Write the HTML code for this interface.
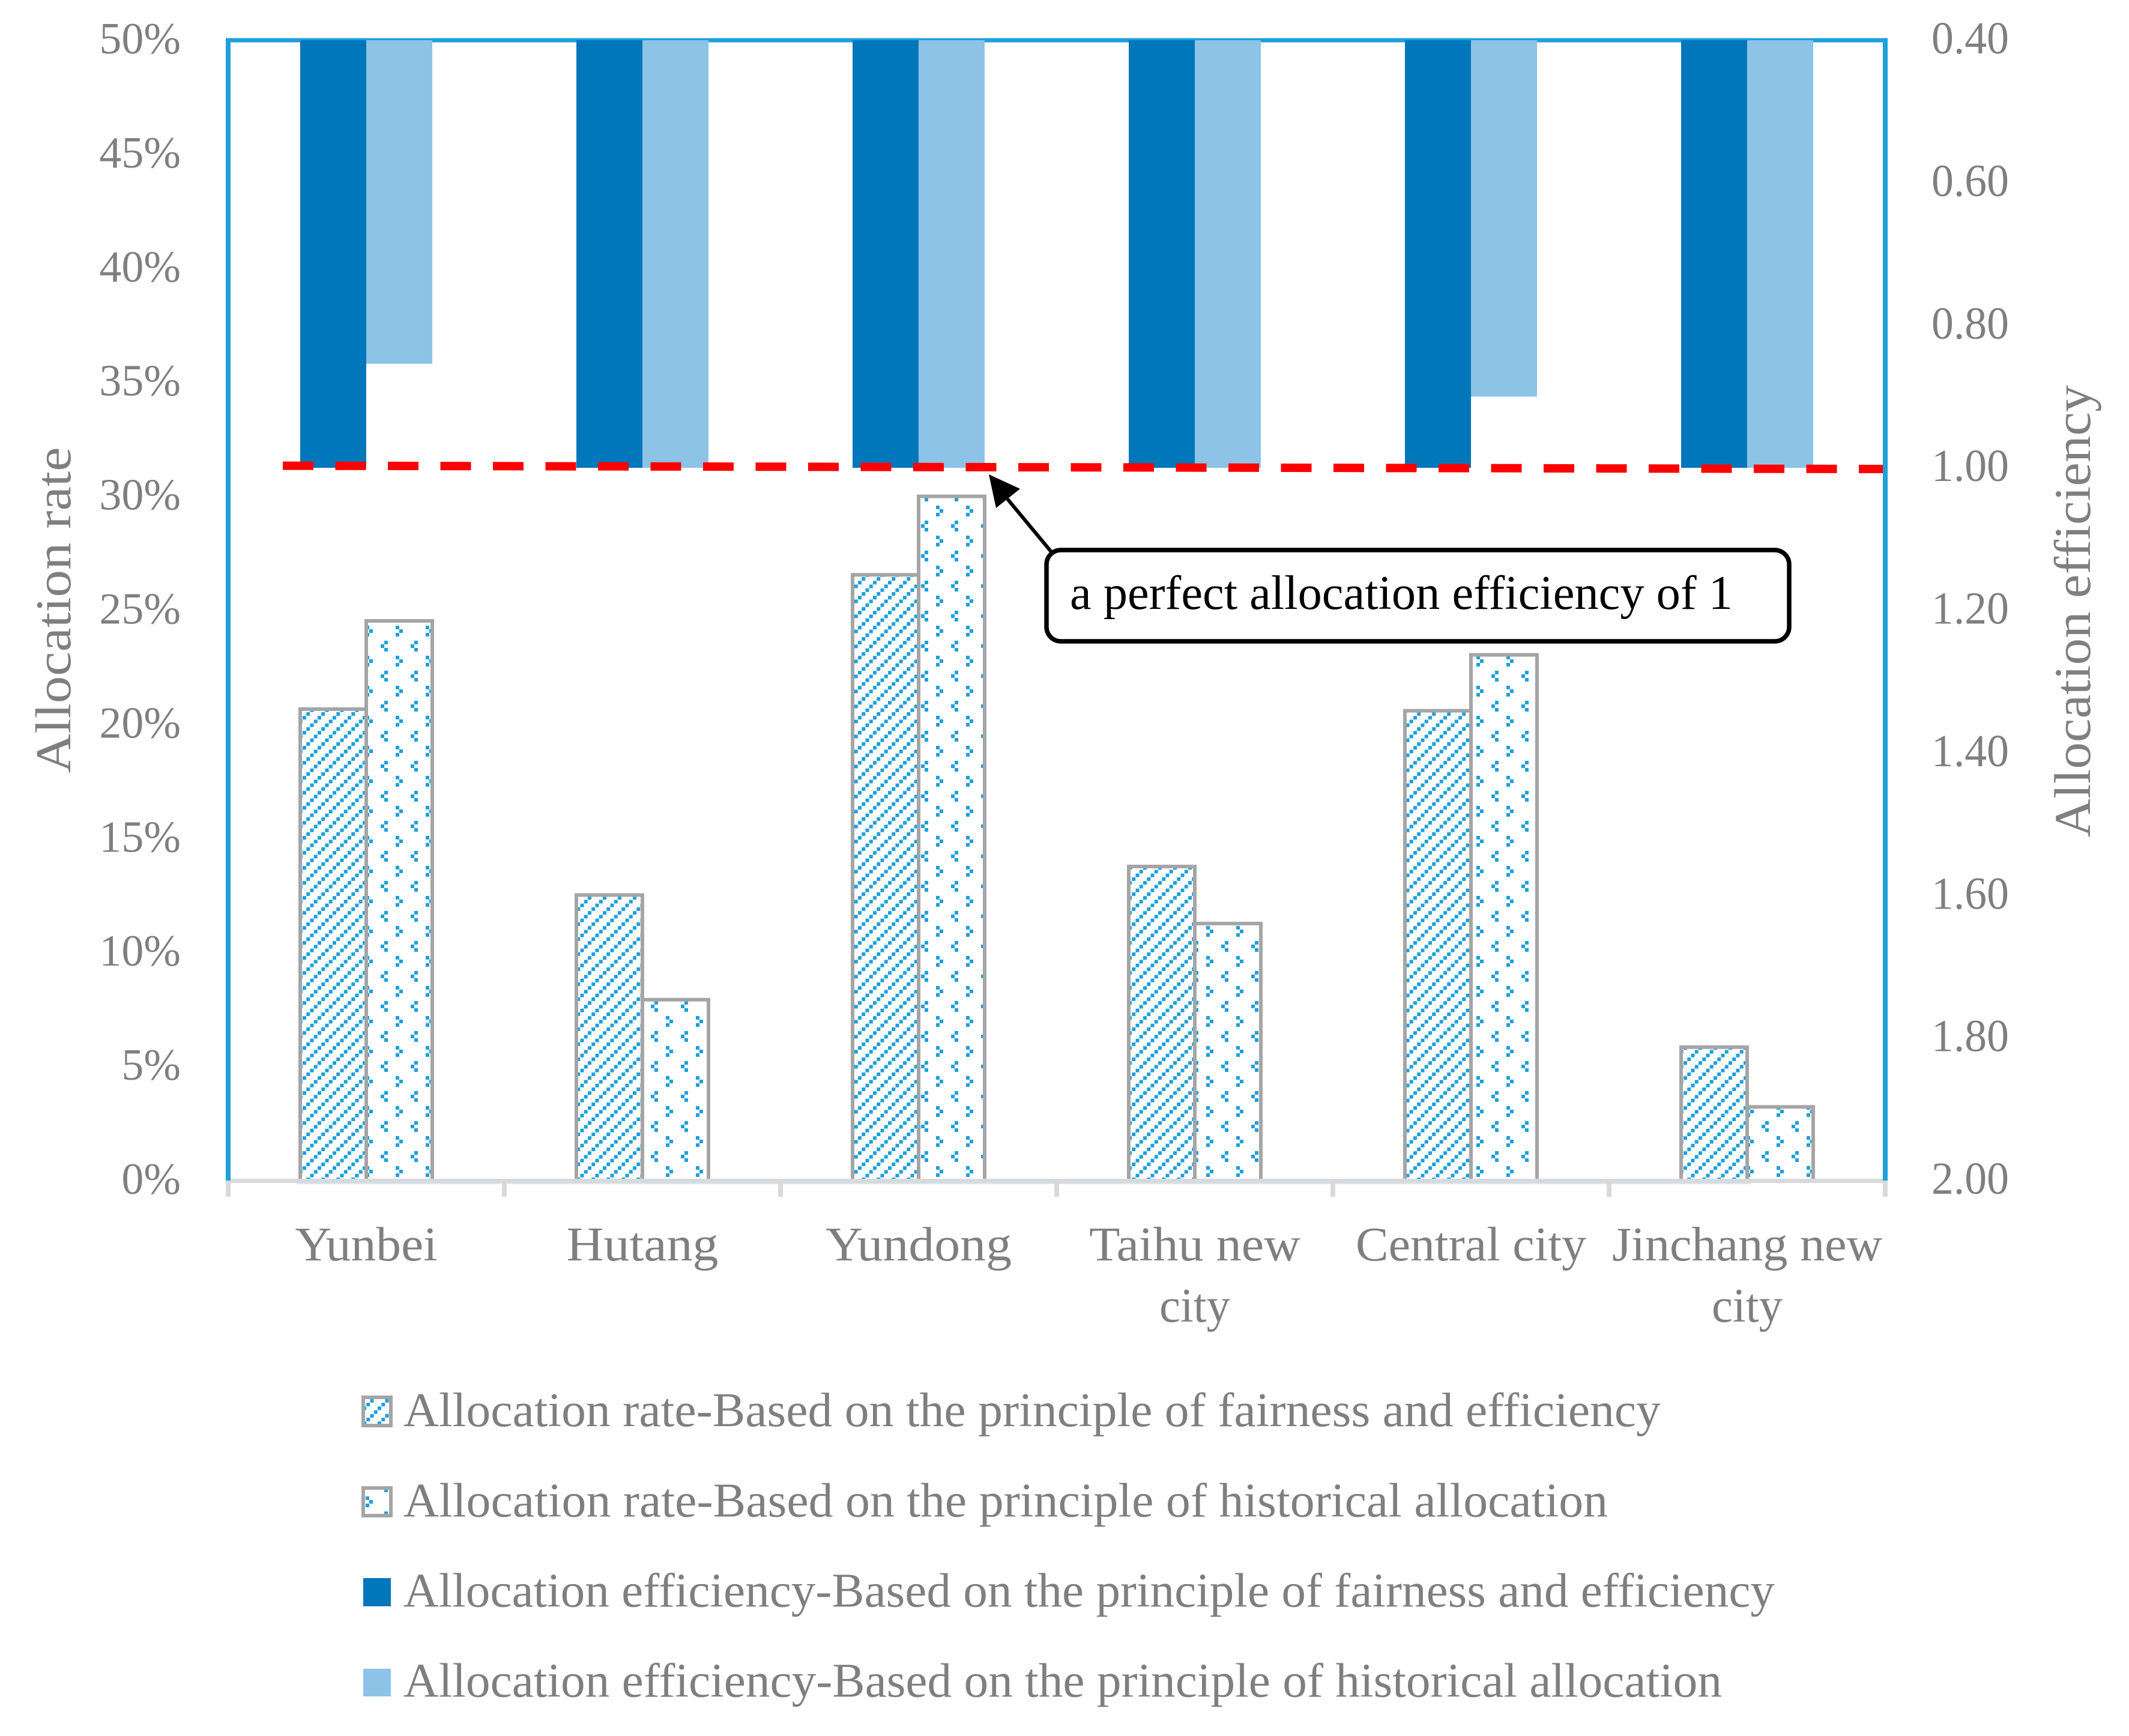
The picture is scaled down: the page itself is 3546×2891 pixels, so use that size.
<!DOCTYPE html>
<html lang="en">
<head>
<meta charset="utf-8">
<title>Allocation rate and allocation efficiency</title>
<style>
html,body{margin:0;padding:0;background:#fff;}
svg{display:block;}
text{font-family:"Liberation Serif",serif;fill:#7f7f7f;}
</style>
</head>
<body>
<svg id="chart" xmlns="http://www.w3.org/2000/svg" width="3546" height="2891" viewBox="0 0 3546 2891">
  <defs>
    <pattern id="hatch" patternUnits="userSpaceOnUse" width="25" height="25" patternTransform="translate(4,-1.5)">
      <rect x="0" y="18.75" width="6" height="6" fill="#1f9fdc"/>
      <rect x="6.25" y="12.5" width="6" height="6" fill="#1f9fdc"/>
      <rect x="12.5" y="6.25" width="6" height="6" fill="#1f9fdc"/>
      <rect x="18.75" y="0" width="6" height="6" fill="#1f9fdc"/>
    </pattern>
    <pattern id="dots" patternUnits="userSpaceOnUse" width="50" height="50" patternTransform="translate(0,10)">
      <rect x="40" y="7" width="6" height="6" fill="#1f9fdc"/>
      <rect x="34" y="13" width="6" height="6" fill="#1f9fdc"/>
      <rect x="40" y="19" width="6" height="6" fill="#1f9fdc"/>
      <rect x="9" y="32" width="6" height="6" fill="#1f9fdc"/>
      <rect x="15" y="38" width="6" height="6" fill="#1f9fdc"/>
      <rect x="9" y="44" width="6" height="6" fill="#1f9fdc"/>
    </pattern>
  </defs>
  <rect x="0" y="0" width="3546" height="2891" fill="#ffffff"/>
  <rect x="494" y="1970" width="341" height="2" fill="#d5e8f5"/>
  <rect x="845" y="1970" width="2070" height="2" fill="#d5e8f5"/>
  <g id="plot-marks"></g>
  <g id="axes"></g>
  <g id="ref-line"></g>

  <text transform="translate(117,1016) rotate(-90)" text-anchor="middle" font-size="84" textLength="543" lengthAdjust="spacingAndGlyphs">Allocation rate</text>
  <text transform="translate(3481,1018) rotate(-90)" text-anchor="middle" font-size="86" textLength="753" lengthAdjust="spacingAndGlyphs">Allocation efficiency</text>

  <g>
    <line x1="1751" y1="919" x2="1678" y2="831" stroke="#000" stroke-width="6"/>
    <polygon points="1647,790 1699,814 1659,846" fill="#000"/>
    <rect x="1743" y="916" width="1237" height="152" rx="24" ry="24" fill="#fff" stroke="#000" stroke-width="7.5"/>
    <text x="1782" y="1014" font-size="80" textLength="1104" lengthAdjust="spacingAndGlyphs" style="fill:#000">a perfect allocation efficiency of 1</text>
  </g>

  <g>
    <g>
      <rect x="605" y="2327" width="46" height="47" fill="url(#hatch)" stroke="#a5a5a5" stroke-width="6"/>
      <text x="672" y="2375" font-size="80" textLength="2094" lengthAdjust="spacingAndGlyphs">Allocation rate-Based on the principle of fairness and efficiency</text>
    </g>
    <g>
      <rect x="605" y="2478" width="46" height="46" fill="url(#dots)" stroke="#a5a5a5" stroke-width="6"/>
      <text x="672" y="2525.5" font-size="80" textLength="2006" lengthAdjust="spacingAndGlyphs">Allocation rate-Based on the principle of historical allocation</text>
    </g>
    <g>
      <rect x="605" y="2628" width="46" height="47" fill="#0177bb"/>
      <text x="672" y="2675.5" font-size="80" textLength="2284" lengthAdjust="spacingAndGlyphs">Allocation efficiency-Based on the principle of fairness and efficiency</text>
    </g>
    <g>
      <rect x="605" y="2779" width="46" height="46" fill="#8cc3e7"/>
      <text x="672" y="2825.5" font-size="80" textLength="2196" lengthAdjust="spacingAndGlyphs">Allocation efficiency-Based on the principle of historical allocation</text>
    </g>
  </g>
</svg>
<script>
// ---- chart data ----
const categories = [["Yunbei"], ["Hutang"], ["Yundong"], ["Taihu new", "city"], ["Central city"], ["Jinchang new", "city"]];
const rateFairness = [20.67, 12.52, 26.56, 13.77, 20.6, 5.85];
const rateHistorical = [24.54, 7.93, 30.0, 11.27, 23.05, 3.23];
const efficiencyFairness = [1.0, 1.0, 1.0, 1.0, 1.0, 1.0];
const efficiencyHistorical = [0.854, 1.0, 1.0, 1.0, 0.9, 1.0];
const perfectLineEnds = [0.997, 1.0016];
const rateTicks = [0, 5, 10, 15, 20, 25, 30, 35, 40, 45, 50];
const efficiencyTicks = [0.4, 0.6, 0.8, 1.0, 1.2, 1.4, 1.6, 1.8, 2.0];

// ---- layout ----
const NS = "http://www.w3.org/2000/svg";
const plotLeft = 380, plotRight = 3140, plotTop = 67, plotBottom = 1966;
const barWidth = 110;
const refLeft = 471, refRight = 3136;
const rateMax = rateTicks[rateTicks.length - 1];
const effMin = efficiencyTicks[0], effMax = efficiencyTicks[efficiencyTicks.length - 1];
const labelFit = {"Yunbei":237,"Hutang":253,"Yundong":310,"Taihu new":352,"city":118,"Central city":384,"Jinchang new":450};

function yRate(v){ return plotBottom - (v / rateMax) * (plotBottom - plotTop); }
function yEff(v){ return plotTop + ((v - effMin) / (effMax - effMin)) * (plotBottom - plotTop); }
function bandWidth(){ return (plotRight - plotLeft) / categories.length; }
function xCenter(i){ return plotLeft + bandWidth() * (i + 0.5); }
function make(tag, attrs){
  const el = document.createElementNS(NS, tag);
  for (const k in attrs) el.setAttribute(k, attrs[k]);
  return el;
}

const marks = document.getElementById("plot-marks");
const axes = document.getElementById("axes");
const refGroup = document.getElementById("ref-line");

// pattern-filled allocation-rate bars
categories.forEach(function(_, i){
  const h1 = make("rect", {x: xCenter(i) - barWidth, y: yRate(rateFairness[i]), width: barWidth, height: plotBottom - yRate(rateFairness[i]), fill: "url(#hatch)", stroke: "#a5a5a5", "stroke-width": 6});
  
  
  marks.appendChild(h1);
  const h2 = make("rect", {x: xCenter(i), y: yRate(rateHistorical[i]), width: barWidth, height: plotBottom - yRate(rateHistorical[i]), fill: "url(#dots)", stroke: "#a5a5a5", "stroke-width": 6});
  
  
  marks.appendChild(h2);
});

// axis frame (drawn below the efficiency bars' top edge)
const frameTop = make("line", {x1: plotLeft - 4, y1: plotTop, x2: plotRight + 4, y2: plotTop, stroke: "#1f9fdc", "stroke-width": 7});


marks.appendChild(frameTop);

// solid allocation-efficiency bars hanging from the top
categories.forEach(function(_, i){
  const e1 = make("rect", {x: xCenter(i) - barWidth, y: plotTop, width: barWidth, height: yEff(efficiencyFairness[i]) - plotTop, fill: "#0177bb"});
  
  
  marks.appendChild(e1);
  const e2 = make("rect", {x: xCenter(i), y: plotTop, width: barWidth, height: yEff(efficiencyHistorical[i]) - plotTop, fill: "#8cc3e7"});
  
  
  marks.appendChild(e2);
});

// frame sides and category axis
for (let i = 0; i <= categories.length; i++){
  const x = plotLeft + bandWidth() * i;
  const tick = make("line", {x1: x, y1: plotBottom, x2: x, y2: 1993, stroke: "#d9d9d9", "stroke-width": 8});
  
  
  axes.appendChild(tick);
}
const baseLine = make("line", {x1: plotLeft, y1: plotBottom + 0.5, x2: plotRight, y2: plotBottom + 0.5, stroke: "#d9d9d9", "stroke-width": 7});


axes.appendChild(baseLine);
const frameLeft = make("line", {x1: plotLeft, y1: plotTop - 3.5, x2: plotLeft, y2: plotBottom, stroke: "#1f9fdc", "stroke-width": 8});


axes.appendChild(frameLeft);
const frameRight = make("line", {x1: plotRight, y1: plotTop - 3.5, x2: plotRight, y2: plotBottom, stroke: "#1f9fdc", "stroke-width": 8});


axes.appendChild(frameRight);

// category labels
categories.forEach(function(lines, i){
  lines.forEach(function(line, k){
    const t = make("text", {x: xCenter(i), y: 2099 + k * 102, "text-anchor": "middle", "font-size": 80, textLength: labelFit[line] || line.length * 32, lengthAdjust: "spacingAndGlyphs"});
    t.textContent = line;
    
    
    axes.appendChild(t);
  });
});

// left ticks
rateTicks.forEach(function(v){
  const t = make("text", {x: 301, y: yRate(v) + 22, "text-anchor": "end", "font-size": 74});
  t.textContent = v + "%";
  
  
  axes.appendChild(t);
});

// right ticks
efficiencyTicks.forEach(function(v){
  const t = make("text", {x: 3217, y: yEff(v) + 22, "font-size": 76, textLength: 129, lengthAdjust: "spacingAndGlyphs"});
  t.textContent = v.toFixed(2);
  
  
  axes.appendChild(t);
});

// dashed perfect-efficiency reference line
const refLine = make("line", {x1: refLeft, y1: yEff(perfectLineEnds[0]), x2: refRight, y2: yEff(perfectLineEnds[1]), stroke: "#ff0000", "stroke-width": 14, "stroke-dasharray": "51 36.5"});


refGroup.appendChild(refLine);
</script>
</body>
</html>
